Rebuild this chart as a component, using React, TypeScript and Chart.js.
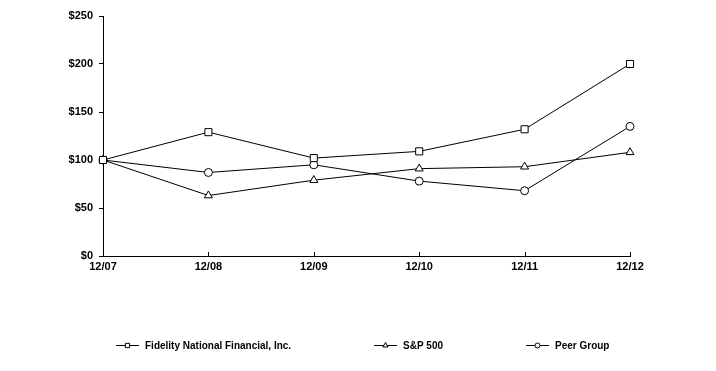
import React, { useEffect, useRef } from "react";
import { Chart, registerables } from "chart.js";

Chart.register(...registerables);

const categories = ["12/07", "12/08", "12/09", "12/10", "12/11", "12/12"];
const fidelityValues = [100, 129, 102, 109, 132, 200];
const spValues = [100, 63, 79, 91, 93, 108];
const peerValues = [100, 87, 95, 78, 68, 135];
const yTickValues = [0, 50, 100, 150, 200, 250];
const seriesNames = ["Fidelity National Financial, Inc.", "S&P 500", "Peer Group"];

const FONT = "'Liberation Sans', Arial, sans-serif";

const customPlugin = {
  id: "customDecor",
  afterDraw(chart: any) {
    const ctx = chart.ctx;
    const xs = chart.scales.x;
    const area = chart.chartArea;
    ctx.save();
    // inner x tick marks
    ctx.strokeStyle = "#000";
    ctx.lineWidth = 1;
    for (let i = 0; i < categories.length; i++) {
      const px = Math.round(xs.getPixelForValue(i)) + 0.5;
      ctx.beginPath();
      ctx.moveTo(px, area.bottom);
      ctx.lineTo(px, area.bottom - 4);
      ctx.stroke();
    }
    // legend
    const items = [
      { x: 116, style: "rect", r: 3 },
      { x: 374, style: "triangle", r: 3 },
      { x: 526, style: "circle", r: 2.5 },
    ];
    const ly = 345.5;
    ctx.font = `bold 10px ${FONT}`;
    ctx.fillStyle = "#000";
    ctx.textBaseline = "middle";
    ctx.textAlign = "left";
    items.forEach((it, i) => {
      ctx.beginPath();
      ctx.moveTo(it.x, ly);
      ctx.lineTo(it.x + 23, ly);
      ctx.stroke();
      ctx.fillStyle = "#fff";
      (Chart as any).helpers?.drawPoint;
      drawMarker(ctx, it.style, it.r, it.x + 11.5, ly);
      ctx.fillStyle = "#000";
      ctx.fillText(seriesNames[i], it.x + 29, ly + 0.5);
    });
    ctx.restore();
  },
};

function drawMarker(ctx: CanvasRenderingContext2D, style: string, r: number, x: number, y: number) {
  ctx.beginPath();
  if (style === "rect") {
    const s = Math.SQRT1_2 * r;
    ctx.rect(x - s, y - s, 2 * s, 2 * s);
  } else if (style === "circle") {
    ctx.arc(x, y, r, 0, Math.PI * 2);
  } else {
    ctx.moveTo(x, y - r);
    ctx.lineTo(x + Math.sin((2 * Math.PI) / 3) * r, y - Math.cos((2 * Math.PI) / 3) * r);
    ctx.lineTo(x + Math.sin((4 * Math.PI) / 3) * r, y - Math.cos((4 * Math.PI) / 3) * r);
    ctx.closePath();
  }
  ctx.fillStyle = "#fff";
  ctx.fill();
  ctx.strokeStyle = "#000";
  ctx.stroke();
}

export default function App() {
  const ref = useRef<HTMLCanvasElement | null>(null);
  useEffect(() => {
    if (!ref.current) return;
    const mk = (label: string, data: number[], style: string, r: number) => ({
      label,
      data,
      borderColor: "#000",
      borderWidth: 1,
      pointStyle: style,
      pointRadius: r,
      pointHoverRadius: r,
      pointBackgroundColor: "#fff",
      pointBorderColor: "#000",
      pointBorderWidth: 1,
      tension: 0,
      fill: false,
    });
    const chart = new Chart(ref.current, {
      type: "line",
      data: {
        labels: categories,
        datasets: [
          mk(seriesNames[0], fidelityValues, "rect", 5),
          mk(seriesNames[1], spValues, "triangle", 4.6),
          mk(seriesNames[2], peerValues, "circle", 4),
        ],
      },
      options: {
        responsive: false,
        animation: false,
        devicePixelRatio: 1,
        layout: { padding: { left: 0, right: 86, top: 16, bottom: 0 } },
        plugins: { legend: { display: false }, tooltip: { enabled: false } },
        scales: {
          x: {
            type: "category",
            offset: false,
            grid: { display: true, drawOnChartArea: false, drawTicks: false, color: "#000" },
            border: { display: true, color: "#000", width: 1 },
            ticks: {
              color: "#000",
              font: { family: FONT, size: 11, weight: "bold" },
              padding: 4,
              maxRotation: 0,
              autoSkip: false,
            },
            afterFit: (s: any) => {
              s.height = 115;
            },
          },
          y: {
            min: 0,
            max: 250,
            afterBuildTicks: (s: any) => {
              s.ticks = yTickValues.map((v) => ({ value: v }));
            },
            grid: { display: true, drawOnChartArea: false, drawTicks: true, tickLength: 4, color: "#000" },
            border: { display: true, color: "#000", width: 1 },
            ticks: {
              color: "#000",
              font: { family: FONT, size: 11, weight: "bold" },
              padding: 6,
              callback: (v: any) => "$" + v,
            },
            afterFit: (s: any) => {
              s.width = 103;
            },
          },
        },
      },
      plugins: [customPlugin],
    } as any);
    return () => chart.destroy();
  }, []);
  return (
    <div style={{ position: "fixed", left: 0, top: 0, width: 716, height: 371, background: "#fff" }}>
      <canvas ref={ref} width={716} height={371} style={{ display: "block", width: 716, height: 371 }} />
    </div>
  );
}
